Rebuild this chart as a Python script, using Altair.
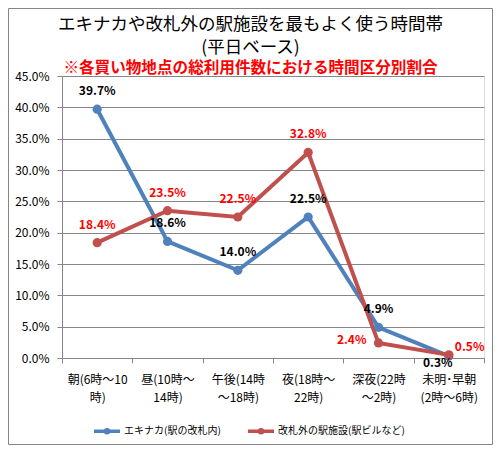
import altair as alt
import pandas as pd

categories = ["朝(6時～10|時)", "昼(10時～|14時)", "午後(14時|～18時)",
              "夜(18時～|22時)", "深夜(22時|～2時)", "未明･早朝|(2時～6時)"]
series_names = ["エキナカ(駅の改札内)", "改札外の駅施設(駅ビルなど)"]
ekinaka = [39.7, 18.6, 14.0, 22.5, 4.9, 0.3]
kaisatsugai = [18.4, 23.5, 22.5, 32.8, 2.4, 0.5]
y_ticks = [0, 0.05, 0.10, 0.15, 0.20, 0.25, 0.30, 0.35, 0.40, 0.45]

rows = []
for i, c in enumerate(categories):
    rows.append({"cat": c, "series": series_names[0], "value": ekinaka[i] / 100})
for i, c in enumerate(categories):
    rows.append({"cat": c, "series": series_names[1], "value": kaisatsugai[i] / 100})
df = pd.DataFrame(rows)

FONT = "Noto Sans CJK JP"
BLUE = "#4F81BD"
RED = "#C0504D"

x_enc = alt.X("cat:N", sort=categories, title=None,
              scale=alt.Scale(type="band", paddingInner=0, paddingOuter=0),
              axis=alt.Axis(labelExpr="split(datum.label, '|')", labelAngle=0,
                            tickBand="extent", tickSize=5, tickColor="#868686",
                            domainColor="#868686", labelFontSize=12, labelColor="#000000",
                            labelFont=FONT, labelPadding=11, labelLineHeight=18,
                            labelBaseline="top", grid=False, labelLimit=200))
y_enc = alt.Y("value:Q", title=None,
              scale=alt.Scale(domain=[0, 0.45], nice=False),
              axis=alt.Axis(values=y_ticks, format=".1%", tickSize=5, tickColor="#868686",
                            domainColor="#868686", gridColor="#868686", gridWidth=1,
                            labelFontSize=12, labelColor="#000000", labelFont=FONT,
                            labelPadding=8))
color_enc = alt.Color("series:N", title=None,
                      scale=alt.Scale(domain=series_names, range=[BLUE, RED]),
                      legend=alt.Legend(orient="none", legendX=30, legendY=340,
                                        direction="horizontal",
                                        symbolType="M-1,0H1M0.12,0A0.12,0.12 0 1,1 -0.12,0A0.12,0.12 0 1,1 0.12,0",
                                        symbolSize=676, symbolStrokeWidth=3.5,
                                        labelFontSize=10, labelFont=FONT, labelColor="#000000",
                                        labelLimit=300, columnPadding=20, labelOffset=2))

base = alt.Chart(df)

lines = base.mark_line(strokeWidth=4).encode(x=x_enc, y=y_enc, color=color_enc)
points = base.mark_point(filled=True, size=85, opacity=1).encode(
    x=x_enc, y=y_enc, color=alt.Color("series:N", scale=alt.Scale(domain=series_names, range=[BLUE, RED]), legend=None))

lbl = alt.Text("value:Q", format=".1%")

blue_above = base.transform_filter(
    (alt.datum.series == series_names[0]) & (alt.datum.cat != categories[5])
).mark_text(fontSize=12, fontWeight="bold", font=FONT, color="#000000",
            baseline="middle", dy=-18).encode(x=x_enc, y=y_enc, text=lbl)
blue_low = base.transform_filter(
    (alt.datum.series == series_names[0]) & (alt.datum.cat == categories[5])
).mark_text(fontSize=12, fontWeight="bold", font=FONT, color="#000000",
            baseline="middle", dx=-11, dy=7).encode(x=x_enc, y=y_enc, text=lbl)
red_above = base.transform_filter(
    (alt.datum.series == series_names[1]) & (alt.datum.cat != categories[4]) & (alt.datum.cat != categories[5])
).mark_text(fontSize=12, fontWeight="bold", font=FONT, color="#FF0000",
            baseline="middle", dy=-18).encode(x=x_enc, y=y_enc, text=lbl)
red_left = base.transform_filter(
    (alt.datum.series == series_names[1]) & (alt.datum.cat == categories[4])
).mark_text(fontSize=12, fontWeight="bold", font=FONT, color="#FF0000",
            baseline="middle", align="right", dx=-12, dy=-3).encode(x=x_enc, y=y_enc, text=lbl)
red_right = base.transform_filter(
    (alt.datum.series == series_names[1]) & (alt.datum.cat == categories[5])
).mark_text(fontSize=12, fontWeight="bold", font=FONT, color="#FF0000",
            baseline="middle", align="left", dx=6, dy=-8).encode(x=x_enc, y=y_enc, text=lbl)

border = alt.Chart(pd.DataFrame({"a": [0]})).mark_rect(
    fill=None, stroke="#868686", strokeWidth=1, clip=False
).encode(x=alt.value(-53.5), x2=alt.value(430.5), y=alt.value(-67.5), y2=alt.value(368.5))

chart = alt.layer(lines, points, blue_above, blue_low, red_above, red_left, red_right, border).properties(
    width=422, height=282,
    autosize=alt.AutoSizeParams(type="none"),
    padding={"left": 54, "top": 68, "right": 9, "bottom": 87},
    title=alt.TitleParams(
        text=["エキナカや改札外の駅施設を最もよく使う時間帯", "(平日ベース)"],
        subtitle="※各買い物地点の総利用件数における時間区分別割合",
        anchor="middle", frame="bounds", font=FONT, fontSize=17.5, fontWeight="normal",
        color="#000000", lineHeight=23, subtitleFont=FONT, subtitleFontSize=15.6,
        subtitleFontWeight="bold", subtitleColor="#FF0000", subtitlePadding=5,
        subtitleLineHeight=17, offset=-69)
).configure_view(stroke=None).configure(background="white")

chart.save("out.html", embed_options={"renderer": "svg", "actions": False})
